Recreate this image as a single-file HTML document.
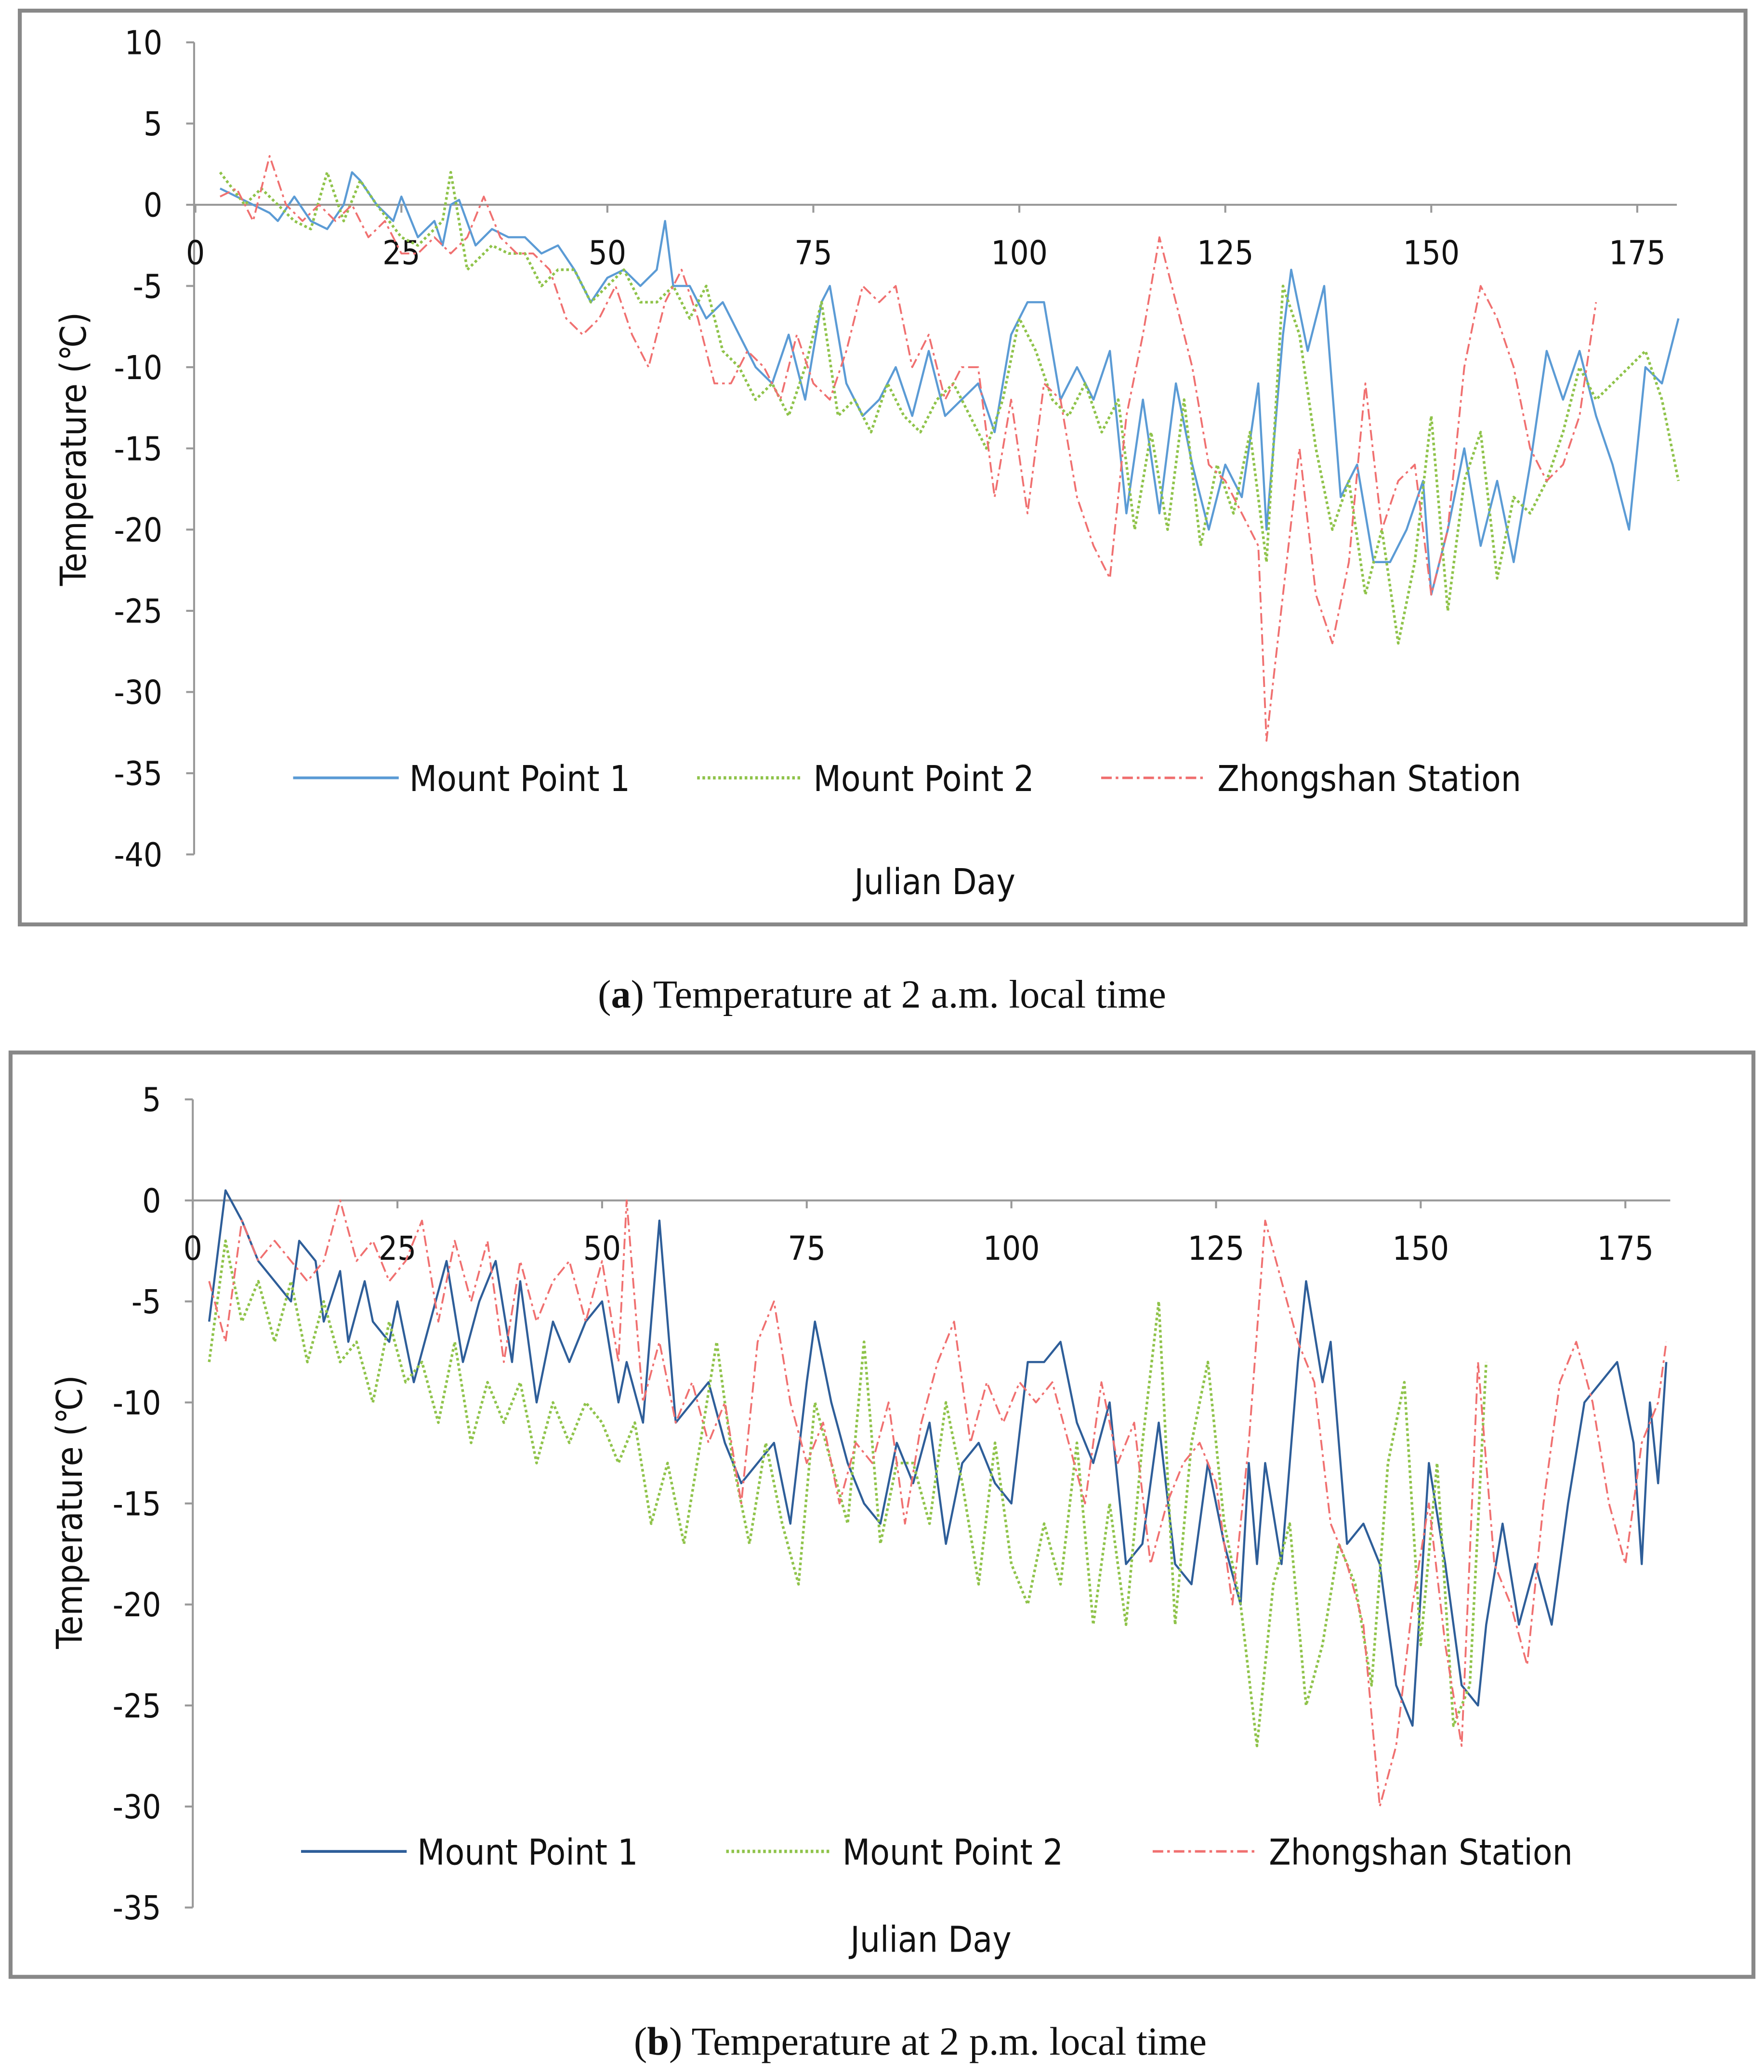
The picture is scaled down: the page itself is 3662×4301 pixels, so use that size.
<!DOCTYPE html>
<html><head><meta charset="utf-8">
<style>
html,body{margin:0;padding:0;background:#fff;}
svg{display:block;}
.tk{font-family:"DejaVu Sans Condensed","DejaVu Sans","Liberation Sans",sans-serif;font-stretch:condensed;font-size:25px;fill:#111;}
.lg{font-family:"DejaVu Sans Condensed","DejaVu Sans","Liberation Sans",sans-serif;font-stretch:condensed;font-size:27px;fill:#111;}
.cap{font-family:"Liberation Serif",serif;font-size:30px;fill:#111;}
</style></head>
<body>
<svg id="fig" width="3662" height="4301" viewBox="0 0 1336 1569" xmlns="http://www.w3.org/2000/svg">
<rect x="15" y="8" width="1307" height="692" fill="#fff" stroke="#888" stroke-width="3"/>
<rect x="8" y="797" width="1320" height="700" fill="#fff" stroke="#888" stroke-width="3"/>
<g id="ga"></g>
<g id="gb"></g>
<text class="cap" x="668" y="763" text-anchor="middle">(<tspan font-weight="bold">a</tspan>) Temperature at 2 a.m. local time</text>
<text class="cap" x="697" y="1556" text-anchor="middle">(<tspan font-weight="bold">b</tspan>) Temperature at 2 p.m. local time</text>
</svg>
<script>
// Chart A data
const aMp1Days=[3,5,7,9,10,12,14,16,18,19,20,22,24,25,27,29,30,31,32,34,36,38,40,42,44,46,48,50,52,54,56,57,58,60,62,64,66,68,70,72,74,76,77,79,81,83,85,87,89,91,93,95,97,99,101,103,105,107,109,111,113,115,117,119,121,123,125,127,129,130,132,133,135,137,139,141,143,145,147,149,150,152,154,156,158,160,162,164,166,168,170,172,174,176,178,180];
const aMp1Vals=[1,0.5,0,-0.5,-1,0.5,-1,-1.5,0,2,1.5,0,-1,0.5,-2,-1,-2.5,0,0.3,-2.5,-1.5,-2,-2,-3,-2.5,-4,-6,-4.5,-4,-5,-4,-1,-5,-5,-7,-6,-8,-10,-11,-8,-12,-6,-5,-11,-13,-12,-10,-13,-9,-13,-12,-11,-14,-8,-6,-6,-12,-10,-12,-9,-19,-12,-19,-11,-16,-20,-16,-18,-11,-20,-8,-4,-9,-5,-18,-16,-22,-22,-20,-17,-24,-20,-15,-21,-17,-22,-16,-9,-12,-9,-13,-16,-20,-10,-11,-7];
const aMp2Days=[3,6,8,12,14,16,18,20,22,25,27,30,31,33,36,38,40,42,44,46,48,50,52,54,56,58,60,62,64,66,68,70,72,74,76,78,80,82,84,86,88,90,92,94,96,98,100,102,104,106,108,110,112,114,116,118,120,122,124,126,128,130,132,134,136,138,140,142,144,146,148,150,152,154,156,158,160,162,164,166,168,170,172,174,176,178,180];
const aMp2Vals=[2,0,1,-1,-1.5,2,-1,1.5,0,-2,-2.5,-1,2,-4,-2.5,-3,-3,-5,-4,-4,-6,-5,-4,-6,-6,-5,-7,-5,-9,-10,-12,-11,-13,-10,-6,-13,-12,-14,-11,-13,-14,-12,-11,-13,-15,-12,-7,-9,-12,-13,-11,-14,-12,-20,-14,-20,-12,-21,-16,-19,-14,-22,-5,-8,-15,-20,-17,-24,-20,-27,-22,-13,-25,-17,-14,-23,-18,-19,-17,-14,-10,-12,-11,-10,-9,-12,-17];
const aZsDays=[3,5,7,9,11,13,15,17,19,21,23,25,27,29,31,33,35,37,39,41,43,45,47,49,51,53,55,57,59,61,63,65,67,69,71,73,75,77,79,81,83,85,87,89,91,93,95,97,99,101,103,105,107,109,111,113,115,117,119,121,123,125,127,129,130,132,134,136,138,140,142,144,146,148,150,152,154,156,158,160,162,164,166,168,170];
const aZsVals=[0.5,1,-1,3,0,-1,0,-1,0,-2,-1,-3,-3,-2,-3,-2,0.5,-2,-3,-3,-4,-7,-8,-7,-5,-8,-10,-6,-4,-7,-11,-11,-9,-10,-12,-8,-11,-12,-9,-5,-6,-5,-10,-8,-12,-10,-10,-18,-12,-19,-11,-12,-18,-21,-23,-13,-8,-2,-6,-10,-16,-17,-19,-21,-33,-24,-15,-24,-27,-22,-11,-20,-17,-16,-24,-20,-10,-5,-7,-10,-15,-17,-16,-13,-6];
const aYTicks=[10,5,0,-5,-10,-15,-20,-25,-30,-35,-40];
const aXTicks=[0,25,50,75,100,125,150,175];
// Chart B data
const bMp1Days=[2,4,6,8,10,12,13,15,16,18,19,21,22,24,25,27,29,31,33,35,37,39,40,42,44,46,48,50,52,53,55,57,59,61,63,65,67,69,71,73,75,76,78,80,82,84,86,88,90,92,94,96,98,100,102,104,106,108,110,112,114,116,118,120,122,124,126,128,129,130,131,133,135,136,138,139,141,143,145,147,149,151,153,155,157,158,160,162,164,166,168,170,172,174,176,177,178,179,180];
const bMp1Vals=[-6,0.5,-1,-3,-4,-5,-2,-3,-6,-3.5,-7,-4,-6,-7,-5,-9,-6,-3,-8,-5,-3,-8,-4,-10,-6,-8,-6,-5,-10,-8,-11,-1,-11,-10,-9,-12,-14,-13,-12,-16,-9,-6,-10,-13,-15,-16,-12,-14,-11,-17,-13,-12,-14,-15,-8,-8,-7,-11,-13,-10,-18,-17,-11,-18,-19,-13,-17,-20,-13,-18,-13,-18,-8,-4,-9,-7,-17,-16,-18,-24,-26,-13,-18,-24,-25,-21,-16,-21,-18,-21,-15,-10,-9,-8,-12,-18,-10,-14,-8];
const bMp2Days=[2,4,6,8,10,12,14,16,18,20,22,24,26,28,30,32,34,36,38,40,42,44,46,48,50,52,54,56,58,60,62,64,66,68,70,72,74,76,78,80,82,84,86,88,90,92,94,96,98,100,102,104,106,108,110,112,114,116,118,120,122,124,126,128,130,132,134,136,138,140,142,144,146,148,150,152,154,156,158];
const bMp2Vals=[-8,-2,-6,-4,-7,-4,-8,-5,-8,-7,-10,-6,-9,-8,-11,-7,-12,-9,-11,-9,-13,-10,-12,-10,-11,-13,-11,-16,-13,-17,-12,-7,-13,-17,-12,-16,-19,-10,-13,-16,-7,-17,-13,-13,-16,-10,-14,-19,-12,-18,-20,-16,-19,-12,-21,-15,-21,-12,-5,-21,-12,-8,-16,-20,-27,-19,-16,-25,-22,-17,-19,-24,-13,-9,-22,-13,-26,-24,-8];
const bZsDays=[2,4,6,8,10,12,14,16,18,20,22,24,26,28,30,32,34,36,38,40,42,44,46,48,50,52,53,55,57,59,61,63,65,67,69,71,73,75,77,79,81,83,85,87,89,91,93,95,97,99,101,103,105,107,109,111,113,115,117,119,121,123,125,127,129,131,133,135,137,139,141,143,145,147,149,151,153,155,157,159,161,163,165,167,169,171,173,175,177,179,180];
const bZsVals=[-4,-7,-1,-3,-2,-3,-4,-3,0,-3,-2,-4,-3,-1,-6,-2,-5,-2,-8,-3,-6,-4,-3,-6,-3,-8,0,-10,-7,-11,-9,-12,-10,-15,-7,-5,-10,-13,-11,-15,-12,-13,-10,-16,-11,-8,-6,-12,-9,-11,-9,-10,-9,-12,-15,-9,-13,-11,-18,-15,-13,-12,-14,-20,-12,-1,-4,-7,-9,-16,-18,-21,-30,-27,-20,-15,-22,-27,-8,-18,-20,-23,-15,-9,-7,-10,-15,-18,-12,-10,-7];
const bYTicks=[5,0,-5,-10,-15,-20,-25,-30,-35];
const bXTicks=[0,25,50,75,100,125,150,175];

const NS='http://www.w3.org/2000/svg';
function mk(parent,tag,attrs){const e=document.createElementNS(NS,tag);for(const k in attrs)e.setAttribute(k,attrs[k]);parent.appendChild(e);return e;}

function drawChart(g,cfg){
  const xS=d=>cfg.x0+d*cfg.xPer;
  const yS=v=>cfg.y0-v*cfg.yPer;
  const ya=mk(g,'line',{x1:cfg.axX,y1:yS(cfg.yTicks[0]),x2:cfg.axX,y2:yS(cfg.yTicks[cfg.yTicks.length-1]),stroke:'#999','stroke-width':1.5});
  
  
  cfg.yTicks.forEach(t=>{
    const tl=mk(g,'line',{x1:cfg.axX-6,y1:yS(t),x2:cfg.axX,y2:yS(t),stroke:'#999','stroke-width':1.5});
    
    
    const tx=mk(g,'text',{x:cfg.axX-24,y:yS(t)+9,'text-anchor':'end',class:'tk'});
    tx.textContent=String(t);
    
    
  });
  const xa=mk(g,'line',{x1:cfg.axX,y1:yS(0),x2:cfg.axEnd,y2:yS(0),stroke:'#999','stroke-width':1.5});
  
  
  cfg.xTicks.forEach(t=>{
    const tl=mk(g,'line',{x1:xS(t),y1:yS(0),x2:xS(t),y2:yS(0)+6,stroke:'#999','stroke-width':1.5});
    
    
    const tx=mk(g,'text',{x:xS(t),y:yS(0)+45,'text-anchor':'middle',class:'tk'});
    tx.textContent=String(t);
    
    
  });
  cfg.series.forEach(s=>{
    const pts=s.days.map((d,i)=>xS(d).toFixed(1)+','+yS(s.vals[i]).toFixed(1)).join(' ');
    const p=mk(g,'polyline',{points:pts,fill:'none',stroke:s.color,'stroke-width':s.w,'stroke-dasharray':s.dash,'stroke-linejoin':'round'});
    
    
  });
  cfg.series.forEach((s,i)=>{
    const lx=cfg.legX[i];
    const l=mk(g,'line',{x1:lx,y1:cfg.legY,x2:lx+80,y2:cfg.legY,stroke:s.color,'stroke-width':s.w+0.5,'stroke-dasharray':s.dash});
    
    
    const t=mk(g,'text',{x:lx+88,y:cfg.legY+10,class:'lg'});
    t.textContent=s.label;
    
    
  });
  const xt=mk(g,'text',{x:cfg.xtX,y:cfg.xtY,'text-anchor':'middle',class:'lg'});
  xt.textContent='Julian Day';
  
  
  const yt=mk(g,'text',{x:0,y:0,'text-anchor':'middle',class:'lg',transform:'translate('+cfg.ytX+','+cfg.ytY+') rotate(-90)'});
  yt.textContent='Temperature (℃)';
  
  
}

drawChart(document.getElementById('ga'),{
  x0:148,xPer:6.24,y0:155,yPer:12.3,axX:147,axEnd:1270,
  yTicks:aYTicks,xTicks:aXTicks,legY:589,legX:[222,528,834],xtX:708,xtY:677,ytX:65,ytY:340,
  series:[
    {name:'series-mount-point-1',label:'Mount Point 1',days:aMp1Days,vals:aMp1Vals,color:'#5b9bd5',w:1.6,dash:'none'},
    {name:'series-mount-point-2',label:'Mount Point 2',days:aMp2Days,vals:aMp2Vals,color:'#8fc34a',w:2,dash:'2,2'},
    {name:'series-zhongshan-station',label:'Zhongshan Station',days:aZsDays,vals:aZsVals,color:'#f07070',w:1.4,dash:'8,3,2,3'}
  ]
});
drawChart(document.getElementById('gb'),{
  x0:146,xPer:6.2,y0:909,yPer:15.3,axX:146,axEnd:1265,
  yTicks:bYTicks,xTicks:bXTicks,legY:1402,legX:[228,550,873],xtX:705,xtY:1478,ytX:62,ytY:1145,
  series:[
    {name:'series-mount-point-1',label:'Mount Point 1',days:bMp1Days,vals:bMp1Vals,color:'#2e5e99',w:1.6,dash:'none'},
    {name:'series-mount-point-2',label:'Mount Point 2',days:bMp2Days,vals:bMp2Vals,color:'#8fc34a',w:2,dash:'2,2'},
    {name:'series-zhongshan-station',label:'Zhongshan Station',days:bZsDays,vals:bZsVals,color:'#f07070',w:1.4,dash:'8,3,2,3'}
  ]
});
</script>
</body></html>
